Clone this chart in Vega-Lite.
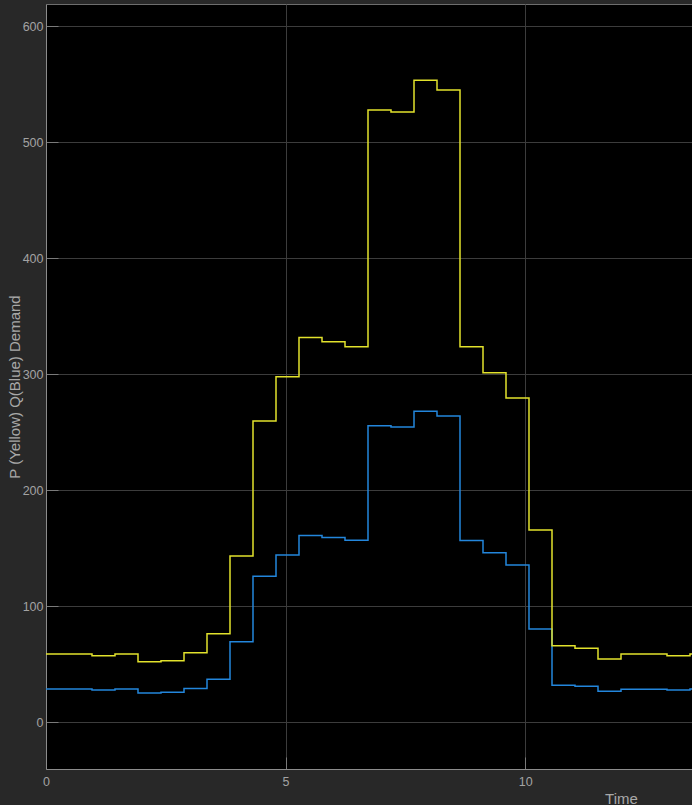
{
  "$schema": "https://vega.github.io/schema/vega-lite/v6.json",
  "autosize": "none",
  "padding": {"left": 46, "top": 4, "right": 0, "bottom": 36},
  "width": 1150,
  "height": 765,
  "background": "#282828",
  "config": {
    "view": {"fill": "#000000", "stroke": "#6e6e6e", "strokeWidth": 1},
    "axis": {
      "labelFont": "Liberation Sans",
      "labelFontSize": 12.5,
      "labelColor": "#a3a3a3",
      "titleFont": "Liberation Sans",
      "titleFontSize": 15,
      "titleFontWeight": "normal",
      "titleColor": "#a8a8a8",
      "gridColor": "#3c3c3c",
      "gridWidth": 1,
      "domainColor": "#8c8c8c",
      "tickColor": "#7a7a7a",
      "tickSize": -12
    }
  },
  "data": {
    "values": [
      {"t": 0.00, "P": 58.9, "Q": 28.7},
      {"t": 0.48, "P": 58.9, "Q": 28.7},
      {"t": 0.96, "P": 57.4, "Q": 27.8},
      {"t": 1.44, "P": 58.9, "Q": 28.7},
      {"t": 1.92, "P": 52.2, "Q": 25.3},
      {"t": 2.40, "P": 53.1, "Q": 25.9},
      {"t": 2.88, "P": 60.0, "Q": 29.0},
      {"t": 3.36, "P": 76.4, "Q": 37.1},
      {"t": 3.84, "P": 143.4, "Q": 69.4},
      {"t": 4.32, "P": 259.7, "Q": 125.9},
      {"t": 4.80, "P": 297.9, "Q": 144.2},
      {"t": 5.28, "P": 331.6, "Q": 160.9},
      {"t": 5.76, "P": 328.1, "Q": 159.2},
      {"t": 6.24, "P": 323.8, "Q": 156.9},
      {"t": 6.72, "P": 527.8, "Q": 255.7},
      {"t": 7.20, "P": 526.1, "Q": 254.6},
      {"t": 7.68, "P": 553.4, "Q": 268.1},
      {"t": 8.16, "P": 545.0, "Q": 264.0},
      {"t": 8.64, "P": 323.8, "Q": 156.6},
      {"t": 9.12, "P": 301.4, "Q": 146.2},
      {"t": 9.60, "P": 279.6, "Q": 135.6},
      {"t": 10.08, "P": 165.8, "Q": 80.4},
      {"t": 10.56, "P": 66.0, "Q": 31.9},
      {"t": 11.04, "P": 63.8, "Q": 31.0},
      {"t": 11.52, "P": 54.6, "Q": 26.7},
      {"t": 12.00, "P": 58.9, "Q": 28.4},
      {"t": 12.48, "P": 58.9, "Q": 28.4},
      {"t": 12.96, "P": 57.4, "Q": 27.8},
      {"t": 13.44, "P": 58.9, "Q": 28.7},
      {"t": 13.92, "P": 58.9, "Q": 28.7}
    ]
  },
  "layer": [
    {
      "mark": {"type": "line", "interpolate": "step-after", "color": "#2386dc", "strokeWidth": 1.5, "clip": true},
      "encoding": {
        "x": {
          "field": "t", "type": "quantitative",
          "scale": {"domain": [0, 24], "nice": false, "zero": false},
          "axis": {"values": [0, 5, 10, 15, 20], "title": "Time", "labelPadding": 18, "titlePadding": 4, "labelFlush": false}
        },
        "y": {
          "field": "Q", "type": "quantitative",
          "scale": {"domain": [-40.3, 619.2], "nice": false, "zero": false},
          "axis": {"values": [0, 100, 200, 300, 400, 500, 600], "title": "P (Yellow) Q(Blue) Demand", "labelPadding": 15, "titlePadding": 0, "labelFlush": false}
        }
      }
    },
    {
      "mark": {"type": "line", "interpolate": "step-after", "color": "#e2e22c", "strokeWidth": 1.5, "clip": true},
      "encoding": {
        "x": {"field": "t", "type": "quantitative"},
        "y": {"field": "P", "type": "quantitative"}
      }
    }
  ]
}
